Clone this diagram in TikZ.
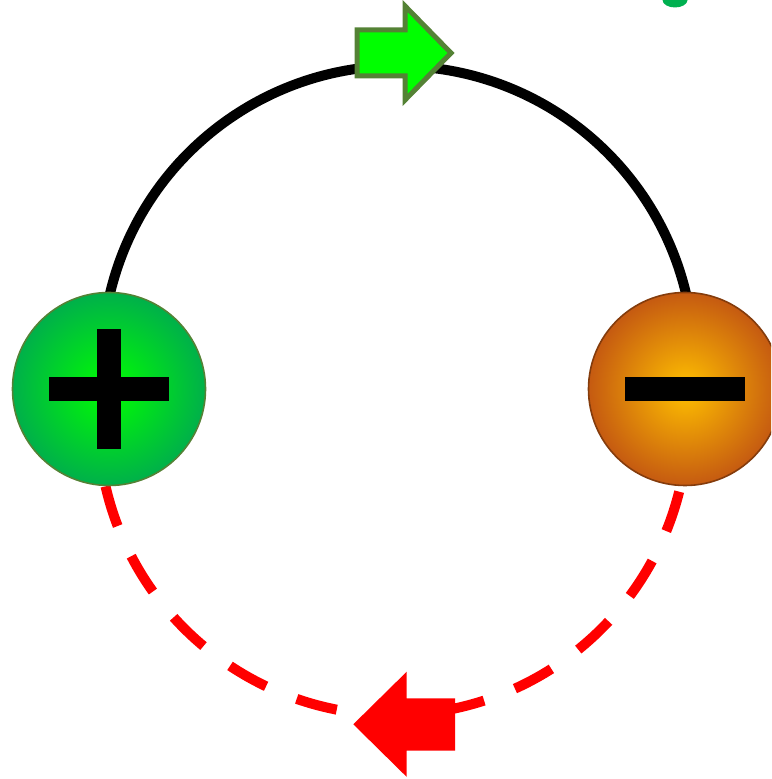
\documentclass[tikz,border=0pt]{standalone}
\usetikzlibrary{shadings}
\definecolor{arrowgreen}{HTML}{00FF00}
\definecolor{olive}{HTML}{548235}
\definecolor{ballgreenin}{HTML}{00FF00}
\definecolor{ballgreenout}{HTML}{00B04A}
\definecolor{ballorangein}{HTML}{FFC000}
\definecolor{ballorangeout}{HTML}{C55A11}
\definecolor{brownedge}{HTML}{843C0C}
\definecolor{textgreen}{HTML}{00B050}
\tikzset{
  wire/.style={line width=10pt, black},
  returnwire/.style={line width=10pt, red, dash pattern=on 41.5pt off 33.1pt},
  ball/.style={circle, minimum size=193pt, inner sep=0pt, line width=1.6pt},
  signbar/.style={fill=black, draw=none},
}
\begin{document}
\begin{tikzpicture}[x=1pt,y=1pt]
\useasboundingbox (0,0) rectangle (771,779);
\clip (0,0) rectangle (771,779);
% clipped green fragment at top right
\fill[textgreen] (675,779) ellipse [x radius=12.5, y radius=7.5];
% circuit wires
\coordinate (topstart) at ({398+296*cos(170)},{417+296*sin(170)});
\draw[wire] (topstart) arc[start angle=170, end angle=10, radius=296];
\coordinate (botstart) at ({393+295*cos(193)},{359+295*sin(193)});
\draw[returnwire] (botstart) arc[start angle=193, end angle=346, radius=295];
% balls
\node[ball, draw=olive, shading=radial, inner color=ballgreenin, outer color=ballgreenout] (plus) at (109,390) {};
\node[ball, draw=brownedge, shading=radial, inner color=ballorangein, outer color=ballorangeout] (minus) at (685,390) {};
% plus sign
\fill[signbar] ([xshift=-12pt,yshift=-60pt]plus.center) rectangle ([xshift=12pt,yshift=60pt]plus.center);
\fill[signbar] ([xshift=-60pt,yshift=-12pt]plus.center) rectangle ([xshift=60pt,yshift=12pt]plus.center);
% minus sign
\fill[signbar] ([xshift=-60pt,yshift=-12pt]minus.center) rectangle ([xshift=60pt,yshift=12pt]minus.center);
% green direction arrow
\draw[fill=arrowgreen, draw=olive, line width=5pt, line join=miter]
  (357,703) -- (357,749) -- (405,749) -- (405,773) -- (451,726) -- (405,679) -- (405,703) -- cycle;
% red direction arrow
\fill[red] (455,28.3) -- (455,80.7) -- (406.7,80.7) -- (406.7,107.3) -- (353.3,54.7) -- (406.7,2.1) -- (406.7,28.3) -- cycle;
\end{tikzpicture}
\end{document}
